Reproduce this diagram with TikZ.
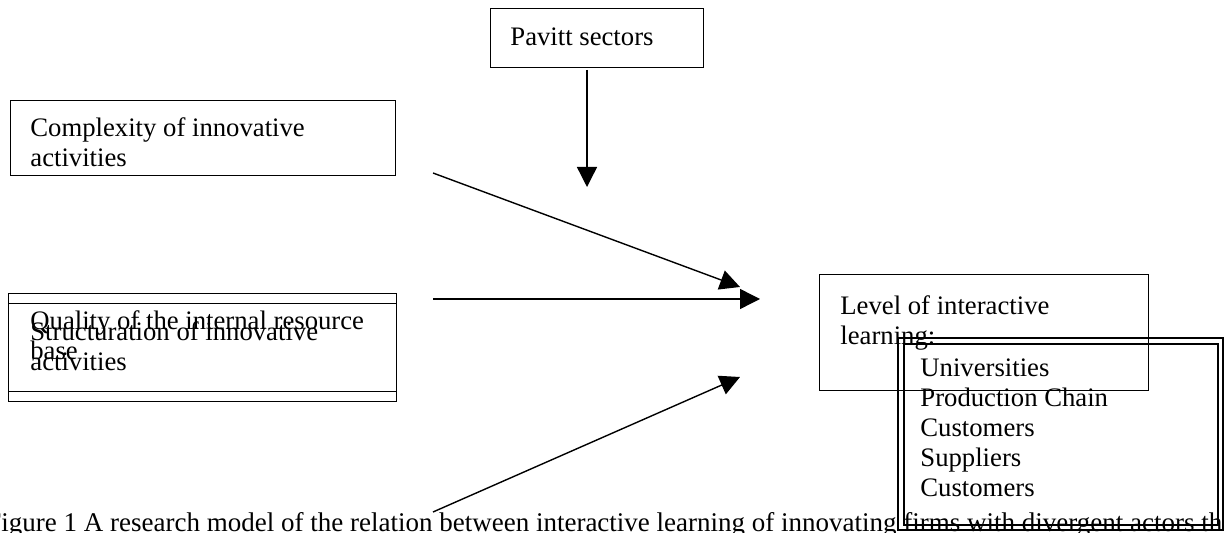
\documentclass[tikz,border=0pt]{standalone}
\usepackage{fontspec}
\setmainfont{Liberation Serif}
\usetikzlibrary{arrows.meta,positioning}

\begin{document}
\begin{tikzpicture}[x=0.5pt,y=-0.5pt]
			% Define styles
			\tikzset{
				box/.style={draw, line width=0.7pt, anchor=north west, inner sep=0pt},
				boxtext/.style={anchor=north west, inner sep=0pt, align=left, font=\fontsize{13.35}{15.1}\selectfont},
				link/.style={line width=0.7pt, -{Triangle[length=10pt,width=10pt]}}
			}
			\useasboundingbox (0,0) rectangle (1224,533);

			% Boxes
			\node[box, minimum width=106.5pt, minimum height=29.5pt] (pavitt) at (490,8) {};
			\node[box, minimum width=192.5pt, minimum height=37.5pt] (complexity) at (10,100) {};
			\node[box, minimum width=194pt, minimum height=49pt] (quality) at (8,293) {};
			\node[box, minimum width=194pt, minimum height=49pt] (structuration) at (8,303) {};
			\node[box, minimum width=164.5pt, minimum height=58pt] (level) at (819,274) {};
			\node[box, line width=1pt, minimum width=162.5pt, minimum height=96pt] (actorsout) at (897,337) {};
			\node[box, line width=1pt, minimum width=157pt, minimum height=90.5pt] (actorsin) at (903,343) {};

			% Texts
			\node[boxtext] (pavitttext) at (510,27) {Pavitt sectors};
			\node[boxtext] (complexitytext) at (30,117) {Complexity of innovative\\activities};
			\node[boxtext] (qualitytext) at (30,310) {Quality of the internal resource\\base};
			\node[boxtext] (structurationtext) at (30,321) {Structuration of innovative\\activities};
			\node[boxtext] (leveltext) at (840,295) {Level of interactive\\learning:};
			\node[boxtext] (actorstext) at (920,358) {Universities\\Production Chain\\Customers\\Suppliers\\Customers};

			% Arrow ends
			\coordinate (pavittfoot) at (587,70);
			\coordinate (pavitttip) at (587,187);
			\coordinate (complexityfoot) at (433,173);
			\coordinate (complexitytip) at (740,287);
			\coordinate (qualityfoot) at (433,299);
			\coordinate (qualitytip) at (760,299);
			\coordinate (lowerfoot) at (433,512);
			\coordinate (lowertip) at (740,377);

			% Arrows
			\draw[link] (pavittfoot) -- (pavitttip);
			\draw[link] (complexityfoot) -- (complexitytip);
			\draw[link] (qualityfoot) -- (qualitytip);
			\draw[link] (lowerfoot) -- (lowertip);

			% Caption
			\node[anchor=base west, inner sep=0pt, font=\fontsize{13.5}{16}\selectfont] (caption) at (-14,531) {Figure 1 A research model of the relation between interactive learning of innovating firms with divergent actors the};
		\end{tikzpicture}
\end{document}
